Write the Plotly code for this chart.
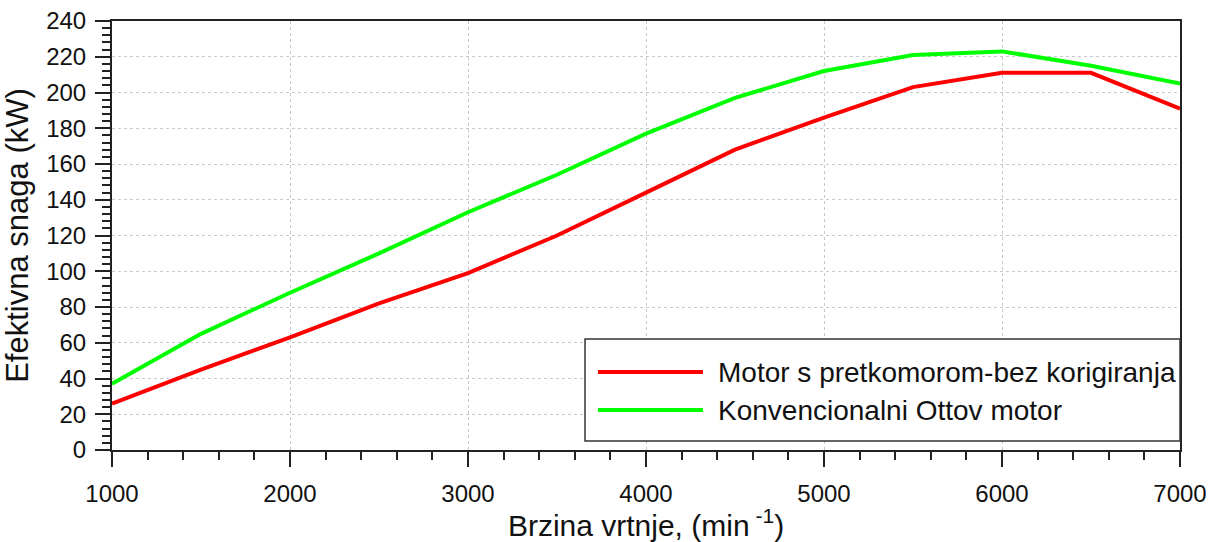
import plotly.graph_objects as go

# Data
rpm = [1000, 1500, 2000, 2500, 3000, 3500, 4000, 4500, 5000, 5500, 6000, 6500, 7000]
power_prechamber = [26, 45, 63, 82, 99, 120, 144, 168, 186, 203, 211, 211, 191]
power_otto = [37, 65, 88, 110, 133, 154, 177, 197, 212, 221, 223, 215, 205]

name_prechamber = "Motor s pretkomorom-bez korigiranja"
name_otto = "Konvencionalni Ottov motor"
color_prechamber = "#ff0000"
color_otto = "#00ff00"

x_title = "Brzina vrtnje, (min<sup> -1</sup>)"
y_title = "Efektivna snaga (kW)"

FONT = "Liberation Sans, Arial, sans-serif"
AXC = "#222222"
GRID = "#c8c8c8"

fig = go.Figure()
fig.add_trace(go.Scatter(x=rpm, y=power_prechamber, mode="lines", name=name_prechamber,
                         line=dict(color=color_prechamber, width=4), showlegend=False))
fig.add_trace(go.Scatter(x=rpm, y=power_otto, mode="lines", name=name_otto,
                         line=dict(color=color_otto, width=4), showlegend=False))

axis_common = dict(
    showline=True, linecolor=AXC, linewidth=2, mirror=True,
    ticks="outside", tickcolor=AXC, tickwidth=2, ticklen=15,
    showgrid=True, gridcolor=GRID, griddash="dot", gridwidth=1,
    zeroline=False, automargin=False,
    tickfont=dict(family=FONT, size=24, color="#111111"),
)

fig.update_xaxes(
    range=[1000, 7000], dtick=1000, tick0=1000,
    minor=dict(dtick=200, ticks="outside", ticklen=8, tickcolor=AXC, tickwidth=2, showgrid=False),
    title=dict(text=x_title, font=dict(family=FONT, size=30, color="#111111")),
    ticklabelstandoff=6,
    **axis_common,
)
fig.update_yaxes(
    range=[0, 240], dtick=20, tick0=0,
    minor=dict(dtick=4, ticks="outside", ticklen=8, tickcolor=AXC, tickwidth=2, showgrid=False),
    title=dict(text=y_title, font=dict(family=FONT, size=31, color="#111111")),
    ticklabelstandoff=4,
    **axis_common,
)

# Legend drawn as a boxed key in the lower right of the plot area
shapes = [dict(type="rect", xref="paper", yref="paper", x0=0.4429, x1=1.0, y0=0.021, y1=0.2587,
               line=dict(color="#333333", width=1.5), fillcolor="white", layer="above")]
annotations = []
for name, col, yy in [(name_prechamber, color_prechamber, 0.1818), (name_otto, color_otto, 0.0932)]:
    shapes.append(dict(type="line", xref="paper", yref="paper", x0=0.455, x1=0.5534, y0=yy, y1=yy,
                       line=dict(color=col, width=4), layer="above"))
    annotations.append(dict(xref="paper", yref="paper", x=0.5655, y=yy, text=name, showarrow=False,
                            xanchor="left", yanchor="middle",
                            font=dict(family=FONT, size=28, color="#111111")))

fig.update_layout(
    width=1215, height=542,
    margin=dict(l=112, r=35, t=21, b=92),
    paper_bgcolor="white", plot_bgcolor="white",
    shapes=shapes, annotations=annotations,
    showlegend=False,
)

fig.write_html("out.html", config={"displayModeBar": False},
               post_script="document.body.style.margin='0';document.body.style.overflow='hidden';")
